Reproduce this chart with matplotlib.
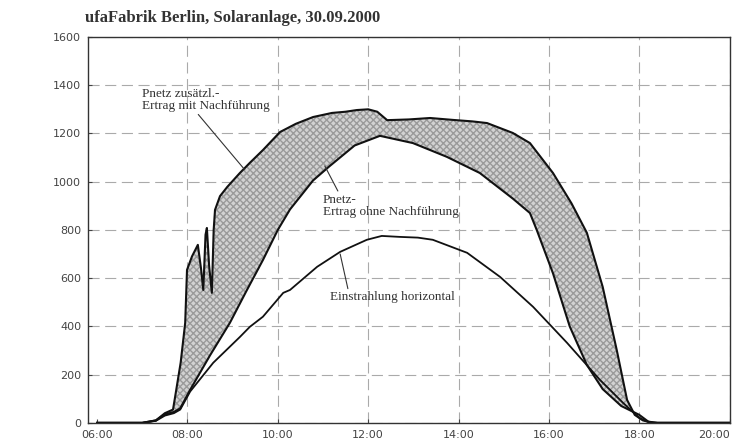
import numpy as np
import matplotlib.pyplot as plt

# time in hours
t_mit = [6.0, 7.0, 7.3, 7.5, 7.68, 7.72, 7.85, 7.95, 7.99, 8.1, 8.23, 8.30, 8.35, 8.40,
         8.43, 8.48, 8.54, 8.58, 8.61, 8.72, 8.88, 9.16, 9.38, 9.67, 10.05, 10.4, 10.78,
         11.2, 11.5, 11.75, 12.0, 12.2, 12.42, 12.9, 13.37, 13.88, 14.3, 14.63, 15.2,
         15.58, 16.09, 16.5, 16.84, 17.19, 17.5, 17.73, 17.9, 18.08, 18.3, 20.0]
p_mit = [0, 0, 10, 40, 55, 100, 250, 415, 634, 690, 738, 640, 551, 780,
         808, 650, 539, 800, 883, 940, 978, 1036, 1078, 1131, 1206, 1240, 1268,
         1285, 1290, 1297, 1300, 1290, 1255, 1258, 1264, 1256, 1250, 1243, 1202,
         1160, 1036, 910, 788, 564, 303, 95, 33, 10, 0, 0]

t_ohne = [6.0, 7.0, 7.3, 7.5, 7.7, 7.84, 8.06, 8.5, 8.94, 9.3, 9.67, 10.0, 10.27, 10.78,
          11.15, 11.7, 12.26, 12.99, 13.74, 14.47, 15.2, 15.58, 15.73, 16.09, 16.46,
          16.84, 17.19, 17.6, 18.0, 18.2, 18.4, 20.0]
p_ohne = [0, 0, 10, 35, 45, 60, 137, 280, 415, 545, 675, 800, 885, 1005,
          1065, 1150, 1190, 1160, 1103, 1036, 930, 870, 800, 620, 400,
          240, 140, 70, 33, 5, 0, 0]

t_horiz = [6.0, 7.0, 7.3, 7.5, 7.7, 7.84, 8.06, 8.57, 9.16, 9.38, 9.67, 10.12, 10.27,
           10.87, 11.38, 11.97, 12.3, 12.7, 13.1, 13.43, 14.19, 14.92, 15.65, 16.4,
           17.13, 17.64, 18.0, 18.2, 18.4, 20.0]
p_horiz = [0, 0, 8, 30, 40, 55, 130, 249, 356, 398, 440, 539, 551,
           647, 709, 759, 775, 771, 768, 759, 705, 605, 481, 332,
           178, 83, 21, 3, 0, 0]

x_ticks = [6, 8, 10, 12, 14, 16, 18, 20]
x_labels = ['06:00', '08:00', '10:00', '12:00', '14:00', '16:00', '18:00', '20:00']
y_ticks = [0, 200, 400, 600, 800, 1000, 1200, 1400, 1600]

fig = plt.figure(figsize=(7.4, 4.4), dpi=100)
ax = fig.add_axes([0.119, 0.039, 0.867, 0.877])

# shaded gain between the two yield curves
t_fill = np.linspace(6, 20, 1401)
upper = np.interp(t_fill, t_mit, p_mit)
lower = np.interp(t_fill, t_ohne, p_ohne)
ax.fill_between(t_fill, lower, upper, where=upper >= lower, facecolor='#d2d2d2',
                edgecolor='#9a9a9a', hatch='xxxxx', linewidth=0)

ax.plot(t_mit, p_mit, color='#111111', lw=1.5)
ax.plot(t_ohne, p_ohne, color='#111111', lw=1.5)
ax.plot(t_horiz, p_horiz, color='#111111', lw=1.3)

ax.set_xlim(5.8, 20)
ax.set_ylim(0, 1600)
ax.set_xticks(x_ticks)
ax.set_xticklabels(x_labels)
ax.get_xticklabels()[-1].set_horizontalalignment('right')
ax.set_yticks(y_ticks)
ax.grid(True, color='#aaaaaa', lw=0.8, dashes=(10, 5))
ax.get_xgridlines()[0].set_visible(False)
ax.set_axisbelow(True)
ax.tick_params(direction='in', length=3, labelsize=8, colors='#444444', pad=5)
for s in ax.spines.values():
    s.set_linewidth(1.0)
    s.set_color('#333333')

serif = 'Liberation Serif'
ax.annotate('Pnetz zusätzl.-\nErtrag mit Nachführung', xy=(9.27, 1049), xytext=(7.0, 1340),
            fontsize=9.5, family=serif, color='#333333', va='center', linespacing=1.0,
            arrowprops=dict(arrowstyle='-', color='#333333', lw=0.8, shrinkA=0, shrinkB=0,
                            relpos=(0.42, 0.0)))
ax.annotate('Pnetz-\nErtrag ohne Nachführung', xy=(11.04, 1065), xytext=(11.0, 900),
            fontsize=9.5, family=serif, color='#333333', va='center', linespacing=1.0,
            arrowprops=dict(arrowstyle='-', color='#333333', lw=0.8, shrinkA=0, shrinkB=0,
                            relpos=(0.12, 1.0)))
ax.annotate('Einstrahlung horizontal', xy=(11.38, 700), xytext=(11.15, 520),
            fontsize=9.5, family=serif, color='#333333', va='center',
            arrowprops=dict(arrowstyle='-', color='#333333', lw=0.8, shrinkA=0, shrinkB=0,
                            relpos=(0.15, 1.0)))

fig.text(0.115, 0.96, 'ufaFabrik Berlin, Solaranlage, 30.09.2000', fontsize=12,
         family=serif, fontweight='bold', color='#333333', va='center')

fig.savefig('out.png', dpi=100)
